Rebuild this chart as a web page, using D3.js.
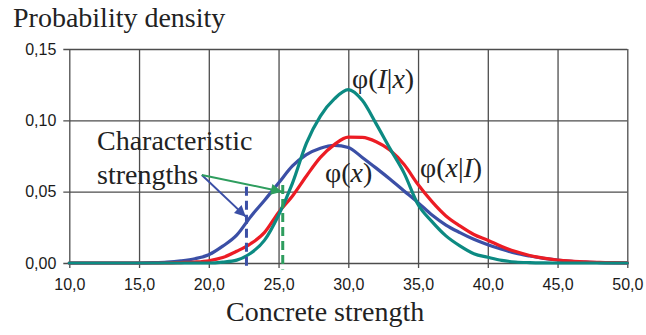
<!DOCTYPE html>
<html>
<head>
<meta charset="utf-8">
<script src="https://cdn.jsdelivr.net/npm/d3@7"></script>
<style>
  html, body { margin: 0; padding: 0; background: #fff; }
  svg { display: block; }
  .tick-label { font-family: "Liberation Sans", Arial, sans-serif; font-size: 16px; fill: #1a1a1a; }
  .serif { font-family: "Liberation Serif", "Times New Roman", serif; font-size: 28px; fill: #222; }
</style>
</head>
<body>
<svg id="chart" width="646" height="335"></svg>
<script>
// Concrete strength values at which the densities are tabulated
const strength = [10,11,12,13,14,15,16,17,18,19,20,21,22,23,24,25,26,27,28,29,30,
                  31,32,33,34,35,36,37,38,39,40,41,42,43,44,45,46,47,48,49,50];

// Prior density φ(x)
const phiX = [0,0,0,0,0,0,0.0002,0.0006,0.0015,0.0030,0.0058,0.0118,0.0195,0.0325,0.0440,0.0560,
              0.0680,0.0760,0.0805,0.0825,0.0810,0.0740,0.0665,0.0587,0.0505,0.0423,0.0336,0.0266,
              0.0213,0.0166,0.0128,0.0096,0.0068,0.0049,0.0033,0.0021,0.0012,0.0006,0.0003,0.0001,0];

// Posterior density φ(x|I)
const phiXI = [0,0,0,0,0,0,0,0,0.0003,0.0007,0.0016,0.0038,0.0082,0.0135,0.0215,0.0355,
               0.0470,0.0610,0.0740,0.0830,0.0882,0.0880,0.0850,0.0790,0.0690,0.0550,0.0430,0.0330,
               0.0260,0.0200,0.0160,0.0115,0.0080,0.0053,0.0034,0.0021,0.0013,0.0008,0.0004,0.0002,0.0001];

// Likelihood φ(I|x)
const phiIX = [0,0,0,0,0,0,0,0,0,0,0,0.0006,0.0020,0.0068,0.0160,0.0335,
               0.0560,0.0840,0.1030,0.1150,0.1215,0.1140,0.0975,0.0800,0.0630,0.0410,0.0290,0.0190,
               0.0120,0.0065,0.0040,0.0018,0.0007,0.0003,0.0001,0,0,0,0,0,0];

const xTicks = [10,15,20,25,30,35,40,45,50];
const yTicks = [0,0.05,0.10,0.15];

// Characteristic strengths (prior and posterior)
const charStrengths = [22.7, 25.3];

const fmtX = d => d3.format(".1f")(d).replace(".", ",");
const fmtY = d => d3.format(".2f")(d).replace(".", ",");

const svg = d3.select("#chart");
const x = d3.scaleLinear().domain([10, 50]).range([69.3, 627.3]);
const y = d3.scaleLinear().domain([0, 0.15]).range([263, 49]);

const gridColor = "#4d4d4d";

// Grid: horizontal lines with small ticks on the left
const yAxis = d3.axisLeft(y).tickValues(yTicks).tickSize(-(x(50) - x(10))).tickSizeOuter(0).tickFormat(fmtY).tickPadding(13);
const gy = svg.append("g").attr("transform", `translate(${x(10)},0)`).call(yAxis);
gy.select(".domain").remove();
gy.selectAll(".tick line").attr("stroke", gridColor).attr("stroke-width", 1.3).attr("x1", -6);
gy.selectAll(".tick text").attr("class", "tick-label").attr("fill", null).attr("font-size", null).attr("font-family", null);

// Grid: vertical lines with small ticks below
const xAxis = d3.axisBottom(x).tickValues(xTicks).tickSize(-(y(0) - y(0.15))).tickSizeOuter(0).tickFormat(fmtX).tickPadding(16);
const gx = svg.append("g").attr("transform", `translate(0,${y(0)})`).call(xAxis);
gx.select(".domain").remove();
gx.selectAll(".tick line").attr("stroke", gridColor).attr("stroke-width", 1.3).attr("y1", 5);
gx.selectAll(".tick text").attr("class", "tick-label").attr("fill", null).attr("font-size", null).attr("font-family", null);

// Density curves
const series = [
  { values: phiX,  color: "#3b4fa6" },
  { values: phiXI, color: "#ec1c24" },
  { values: phiIX, color: "#0c8a82" }
];
const line = d3.line()
  .x((d, i) => x(strength[i]))
  .y(d => y(d))
  .curve(d3.curveMonotoneX);
series.forEach(s => {
  svg.append("path")
    .attr("d", line(s.values))
    .attr("fill", "none")
    .attr("stroke", s.color)
    .attr("stroke-width", 3.2)
    .attr("stroke-linejoin", "round")
    .attr("stroke-linecap", "round");
});

// Dashed verticals at the characteristic strengths
const dashColors = ["#3b4fa6", "#2e9d5e"];
const dashTops = [0.0535, 0.0547];
charStrengths.forEach((c, i) => {
  svg.append("line")
    .attr("x1", x(c)).attr("x2", x(c))
    .attr("y1", y(dashTops[i])).attr("y2", y(-0.0045))
    .attr("stroke", dashColors[i])
    .attr("stroke-width", 3)
    .attr("stroke-dasharray", "9,5");
});

// Arrow heads
const defs = svg.append("defs");
dashColors.forEach((c, i) => {
  defs.append("marker")
    .attr("id", "arrow" + i)
    .attr("viewBox", "0 0 10 10")
    .attr("refX", 10).attr("refY", 5)
    .attr("markerWidth", 13).attr("markerHeight", 11)
    .attr("markerUnits", "userSpaceOnUse")
    .attr("orient", "auto")
    .append("path")
    .attr("d", "M0,0 L10,5 L0,10 Z")
    .attr("fill", c);
});

// Arrows from the "Characteristic strengths" label to the dashed lines
const arrowStart = [19.5, 0.0617];
const arrowTips = [[22.65, 0.0325], [25.25, 0.0500]];
arrowTips.forEach((t, i) => {
  svg.append("line")
    .attr("x1", x(arrowStart[0])).attr("y1", y(arrowStart[1]))
    .attr("x2", x(t[0])).attr("y2", y(t[1]))
    .attr("stroke", dashColors[i])
    .attr("stroke-width", 2)
    .attr("marker-end", `url(#arrow${i})`);
});

// Texts
svg.append("text").attr("class", "serif").attr("x", 13).attr("y", 27).text("Probability density");
svg.append("text").attr("class", "serif").attr("x", 226).attr("y", 321).text("Concrete strength");
svg.append("text").attr("class", "serif").attr("x", 97).attr("y", 150).text("Characteristic");
svg.append("text").attr("class", "serif").attr("x", 97).attr("y", 184).text("strengths");

function curveLabel(px, py, parts) {
  const t = svg.append("text").attr("class", "serif").attr("x", px).attr("y", py);
  parts.forEach(p => {
    t.append("tspan").attr("font-style", p[1] ? "italic" : null).text(p[0]);
  });
}
curveLabel(352, 88, [["φ(", false], ["I", true], ["|", false], ["x", true], [")", false]]);
curveLabel(325, 182, [["φ(", false], ["x", true], [")", false]]);
curveLabel(420, 177, [["φ(", false], ["x", true], ["|", false], ["I", true], [")", false]]);
</script>
</body>
</html>
